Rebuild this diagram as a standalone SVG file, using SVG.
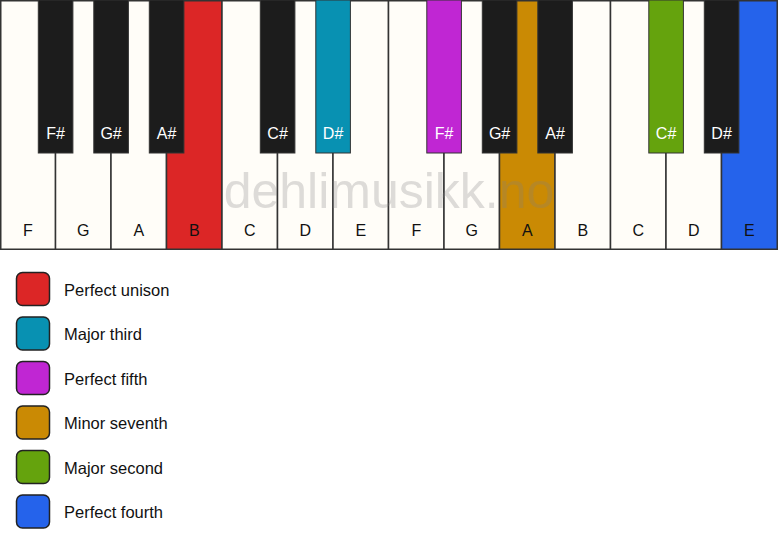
<svg xmlns="http://www.w3.org/2000/svg" width="778" height="550" viewBox="0 0 778 550">
<style>
.w{fill:#fffdf8;stroke:#333;stroke-width:1.5}
.b{fill:#1c1c1c;stroke:#333;stroke-width:1}
.lw{font-family:"Liberation Sans",Arial,sans-serif;font-size:16px;fill:#111;text-anchor:middle}
.lb{font-family:"Liberation Sans",Arial,sans-serif;font-size:16px;fill:#fff;text-anchor:middle}
.sw{stroke:#222;stroke-width:1.5}
.lt{font-family:"Liberation Sans",Arial,sans-serif;font-size:16.5px;fill:#111}
</style>
<rect width="778" height="550" fill="#ffffff"/>
<g id="white-keys">
<g id="wF1"><rect class="w" x="0.75" y="0.75" width="54.8" height="248.5"/><text class="lw" x="27.8" y="236">F</text></g>
<g id="wG1"><rect class="w" x="55.5" y="0.75" width="55.5" height="248.5"/><text class="lw" x="83.3" y="236">G</text></g>
<g id="wA1"><rect class="w" x="111" y="0.75" width="55.5" height="248.5"/><text class="lw" x="138.8" y="236">A</text></g>
<g id="wB1"><rect class="w" x="166.5" y="0.75" width="55.5" height="248.5" style="fill:#dc2626"/><text class="lw" x="194.3" y="236">B</text></g>
<g id="wC1"><rect class="w" x="222" y="0.75" width="55.5" height="248.5"/><text class="lw" x="249.8" y="236">C</text></g>
<g id="wD1"><rect class="w" x="277.5" y="0.75" width="55.5" height="248.5"/><text class="lw" x="305.3" y="236">D</text></g>
<g id="wE1"><rect class="w" x="333" y="0.75" width="55.5" height="248.5"/><text class="lw" x="360.8" y="236">E</text></g>
<g id="wF2"><rect class="w" x="388.5" y="0.75" width="55.5" height="248.5"/><text class="lw" x="416.3" y="236">F</text></g>
<g id="wG2"><rect class="w" x="444" y="0.75" width="55.5" height="248.5"/><text class="lw" x="471.8" y="236">G</text></g>
<g id="wA2"><rect class="w" x="499.5" y="0.75" width="55.5" height="248.5" style="fill:#ca8a04"/><text class="lw" x="527.3" y="236">A</text></g>
<g id="wB2"><rect class="w" x="555" y="0.75" width="55.5" height="248.5"/><text class="lw" x="582.8" y="236">B</text></g>
<g id="wC2"><rect class="w" x="610.5" y="0.75" width="55.5" height="248.5"/><text class="lw" x="638.3" y="236">C</text></g>
<g id="wD2"><rect class="w" x="666" y="0.75" width="55.5" height="248.5"/><text class="lw" x="693.8" y="236">D</text></g>
<g id="wE2"><rect class="w" x="721.5" y="0.75" width="55.75" height="248.5" style="fill:#2563eb"/><text class="lw" x="749.4" y="236">E</text></g>
</g>
<text x="389" y="208" font-family="'Liberation Sans',Arial,sans-serif" font-size="50" fill="#808080" fill-opacity="0.27" text-anchor="middle">dehlimusikk.no</text>
<g id="black-keys">
<g id="bFs1"><rect class="b" x="38.3" y="0" width="34.6" height="153"/><text class="lb" x="55.6" y="139">F#</text></g>
<g id="bGs1"><rect class="b" x="93.8" y="0" width="34.6" height="153"/><text class="lb" x="111.1" y="139">G#</text></g>
<g id="bAs1"><rect class="b" x="149.3" y="0" width="34.6" height="153"/><text class="lb" x="166.6" y="139">A#</text></g>
<g id="bCs1"><rect class="b" x="260.3" y="0" width="34.6" height="153"/><text class="lb" x="277.6" y="139">C#</text></g>
<g id="bDs1"><rect class="b" x="315.8" y="0" width="34.6" height="153" style="fill:#0891b2"/><text class="lb" x="333.1" y="139">D#</text></g>
<g id="bFs2"><rect class="b" x="426.8" y="0" width="34.6" height="153" style="fill:#c026d3"/><text class="lb" x="444.1" y="139">F#</text></g>
<g id="bGs2"><rect class="b" x="482.3" y="0" width="34.6" height="153"/><text class="lb" x="499.6" y="139">G#</text></g>
<g id="bAs2"><rect class="b" x="537.8" y="0" width="34.6" height="153"/><text class="lb" x="555.1" y="139">A#</text></g>
<g id="bCs2"><rect class="b" x="648.8" y="0" width="34.6" height="153" style="fill:#65a30d"/><text class="lb" x="666.1" y="139">C#</text></g>
<g id="bDs2"><rect class="b" x="704.3" y="0" width="34.6" height="153"/><text class="lb" x="721.6" y="139">D#</text></g>
</g>
<g id="legend">
<g id="leg1"><rect class="sw" x="16.5" y="272.5" width="33" height="33" rx="6" fill="#dc2626"/><text class="lt" x="64" y="295.5">Perfect unison</text></g>
<g id="leg2"><rect class="sw" x="16.5" y="317" width="33" height="33" rx="6" fill="#0891b2"/><text class="lt" x="64" y="340">Major third</text></g>
<g id="leg3"><rect class="sw" x="16.5" y="361.5" width="33" height="33" rx="6" fill="#c026d3"/><text class="lt" x="64" y="384.5">Perfect fifth</text></g>
<g id="leg4"><rect class="sw" x="16.5" y="406" width="33" height="33" rx="6" fill="#ca8a04"/><text class="lt" x="64" y="429">Minor seventh</text></g>
<g id="leg5"><rect class="sw" x="16.5" y="450.5" width="33" height="33" rx="6" fill="#65a30d"/><text class="lt" x="64" y="473.5">Major second</text></g>
<g id="leg6"><rect class="sw" x="16.5" y="495" width="33" height="33" rx="6" fill="#2563eb"/><text class="lt" x="64" y="518">Perfect fourth</text></g>
</g>
</svg>
